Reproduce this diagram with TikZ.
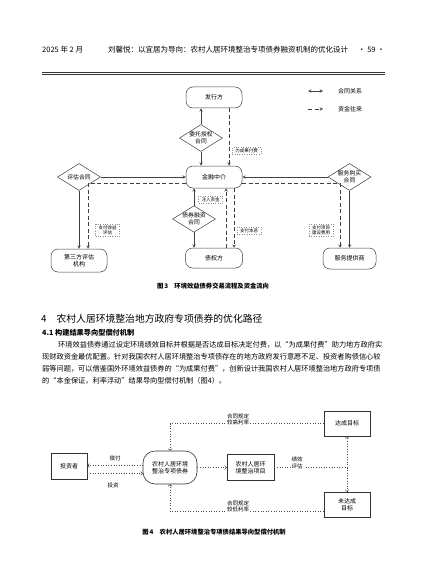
\documentclass[tikz,border=0pt]{standalone}
\usepackage{fontspec}
\setmainfont{Noto Sans CJK SC}
\usepackage{tikz}
\usetikzlibrary{arrows,shapes.geometric,positioning}
\XeTeXlinebreaklocale "zh"
\XeTeXlinebreakskip = 0pt plus 1pt

\begin{document}
\begin{tikzpicture}[x=1pt,y=-1pt,>=stealth]
	 \tikzstyle{party}=[draw=black!75,line width=0.5pt,rounded corners=7pt,fill=white,inner sep=0pt,align=center,font=\fontsize{6}{7}\selectfont]
	 \tikzstyle{deal}=[diamond,aspect=1.6,draw=black!75,line width=0.5pt,fill=white,inner sep=0pt,minimum width=43pt,minimum height=27pt,align=center,font=\fontsize{5.8}{6.6}\selectfont]
	 \tikzstyle{memo}=[draw=black!45,dotted,inner xsep=3pt,inner ysep=1.5pt,align=center,font=\fontsize{4.5}{5.2}\selectfont]
	 \tikzstyle{link}=[draw,line width=0.5pt,black!75,->]
	 \tikzstyle{money}=[link,dash pattern=on 4pt off 2.5pt]
	 \tikzstyle{plain}=[draw=black!80,line width=0.7pt,inner sep=0pt,align=center,font=\fontsize{6}{7.2}\selectfont]
	 \tikzstyle{flow}=[draw,black!70,line width=0.6pt,dotted,-to]
	 \tikzstyle{cond}=[fill=white,inner sep=1pt,align=center,font=\fontsize{5.5}{6.5}\selectfont]
	 \tikzstyle{line}=[anchor=west,inner sep=0pt,font=\fontsize{7.2}{8}\selectfont]

	 \fill[white] (0,0) rectangle (427,583);
	 \useasboundingbox (0,0) rectangle (427,583);

	 % running head
	 \node[line,font=\fontsize{7.5}{8}\selectfont] (hdate) at (42,50) {2025 年 2 月};
	 \node[line,font=\fontsize{7.5}{8}\selectfont] (htitle) at (108,50) {刘馨悦：以宜居为导向：农村人居环境整治专项债券融资机制的优化设计};
	 \node[line,anchor=east,font=\fontsize{7.5}{8}\selectfont] (hpage) at (385,50) {· 59 ·};
	 \draw[line width=0.8pt,black!80] (42,72.5) -- (385,72.5);
	 \draw[line width=0.4pt,black!80] (42,74.6) -- (385,74.6);

	 % figure 3
	 \node[party,minimum width=56pt,minimum height=21pt] (fxf) at (214,97.5) {发行方};
	 \node[party,minimum width=56pt,minimum height=22pt] (jrzj) at (214,177) {金融中介};
	 \node[party,minimum width=57pt,minimum height=20pt] (zqf) at (214,258) {债权方};
	 \node[party,minimum width=56pt,minimum height=23pt] (dsf) at (79,260.5) {第三方评估\\机构};
	 \node[party,minimum width=53pt,minimum height=21pt] (fwtg) at (349.5,258.5) {服务提供商};
	 \node[deal] (wtht) at (201,138) {委托授权\\合同};
	 \node[deal] (pght) at (79,177) {评估合同};
	 \node[deal,minimum height=24pt] (zqht) at (194,219) {债券融资\\合同};
	 \node[deal] (fwht) at (349.5,177) {服务购买\\合同};

	 \draw[link] (wtht) -- (fxf.south -| wtht);
	 \draw[link] (wtht) -- (jrzj.north -| wtht);
	 \draw[money] ([xshift=15pt]fxf.south) -- ([xshift=15pt]jrzj.north);
	 \node[memo] (wsh) at (246.5,150.5) {为成果付费};

	 \draw[link] (pght) -- (jrzj);
	 \draw[link] (pght) -- (dsf);
	 \draw[money] ([yshift=-6.5pt]jrzj.west) -| ([xshift=9pt]dsf.north);
	 \node[memo] (zfxy) at (107.5,230) {支付效益\\评估};

	 \draw[link] (fwht) -- (jrzj);
	 \draw[link] (fwht) -- (fwtg);
	 \draw[money] ([yshift=-6.5pt]jrzj.east) -| ([xshift=-9.5pt]fwtg.north);
	 \node[memo] (zfxm) at (321,230) {支付项目\\建设费用};

	 \draw[link] (zqht) -- (jrzj.south -| zqht);
	 \draw[link] (zqht) -- (zqf.north -| zqht);
	 \draw[money] ([xshift=12pt]zqf.north) -- ([xshift=12pt]jrzj.south);
	 \draw[money] ([xshift=20pt]jrzj.south) -- ([xshift=20pt]zqf.north);
	 \node[memo] (zrzj) at (210.5,200) {注入资金};
	 \node[memo] (zfbx) at (249,231) {支付本息};

	 % legend
	 \coordinate (ht1) at (308,91);
	 \coordinate (ht2) at (323,91);
	 \coordinate (zj1) at (308,109);
	 \coordinate (zj2) at (323,109);
	 \draw[link,<->] (ht1) -- (ht2);
	 \draw[money] (zj1) -- (zj2);
	 \node[line,font=\fontsize{6}{7}\selectfont] (htgx) at (338,91) {合同关系};
	 \node[line,font=\fontsize{6}{7}\selectfont] (zjwl) at (338,109) {资金往来};

	 \node[font=\bfseries\fontsize{6.3}{7}\selectfont] (cap3) at (213,286) {图\,3\quad 环境效益债券交易流程及资金流向};

	 % text
	 \node[line,font=\fontsize{9.8}{11}\selectfont] (sec4) at (41,319) {4\hspace{10pt}农村人居环境整治地方政府专项债券的优化路径};
	 \node[line,font=\bfseries\fontsize{7.2}{8}\selectfont] (sec41) at (42,333) {4.1 构建结果导向型偿付机制};
	 \node[line] (p1) at (58,345) {\hbox to 327pt{环境效益债券通过设定环境绩效目标并根据是否达成目标决定付费，以“为成果付费”助力地方政府实}};
	 \node[line] (p2) at (42,357) {\hbox to 343pt{现财政资金最优配置。针对我国农村人居环境整治专项债存在的地方政府发行意愿不足、投资者购债信心较}};
	 \node[line] (p3) at (42,369) {\hbox to 343pt{弱等问题，可以借鉴国外环境效益债券的“为成果付费”，创新设计我国农村人居环境整治地方政府专项债}};
	 \node[line] (p4) at (42,380.5) {的“本金保证，利率浮动”结果导向型偿付机制（图4）。};

	 % figure 4
	 \node[plain,minimum width=36pt,minimum height=26pt] (tzz) at (69,466) {投资者};
	 \node[plain,rounded corners=12pt,line width=0.6pt,minimum width=54pt,minimum height=33pt] (zxzq) at (170,467.5) {农村人居环境\\整治专项债券};
	 \node[plain,minimum width=47pt,minimum height=26pt] (xm) at (250.5,467.5) {农村人居环\\境整治项目};
	 \node[plain,minimum width=46pt,minimum height=25pt] (dc) at (347,423.5) {达成目标};
	 \node[plain,minimum width=46pt,minimum height=25pt] (wdc) at (347,504.5) {未达成\\目标};
	 \coordinate (pg) at (347,467.5);

	 \draw[flow] (zxzq.west |- 0,465.5) -- (tzz.east |- 0,465.5);
	 \draw[flow] (tzz.east |- 0,473.5) -- (zxzq.west |- 0,473.5);
	 \node[cond] (cf) at (115,458) {偿付};
	 \node[cond] (tz) at (113,485) {投资};
	 \draw[flow] (zxzq) -- (xm);
	 \draw[flow,-] (xm) -- (pg);
	 \node[cond] (jxpg) at (297,463) {绩效\\评估};
	 \draw[flow] (pg) -- (dc);
	 \draw[flow] (pg) -- (wdc);
	 \draw[flow] (dc.west) -| (zxzq.north);
	 \node[cond] (gg) at (238,419.5) {合同规定\\较高利率};
	 \draw[flow] ([yshift=-6.5pt]wdc.west) -| (zxzq.south);
	 \node[cond] (gd) at (238,506.5) {合同规定\\较低利率};

	 \node[font=\bfseries\fontsize{6.3}{7}\selectfont] (cap4) at (214,532) {图\,4\quad 农村人居环境整治专项债结果导向型偿付机制};
\end{tikzpicture}
\end{document}
